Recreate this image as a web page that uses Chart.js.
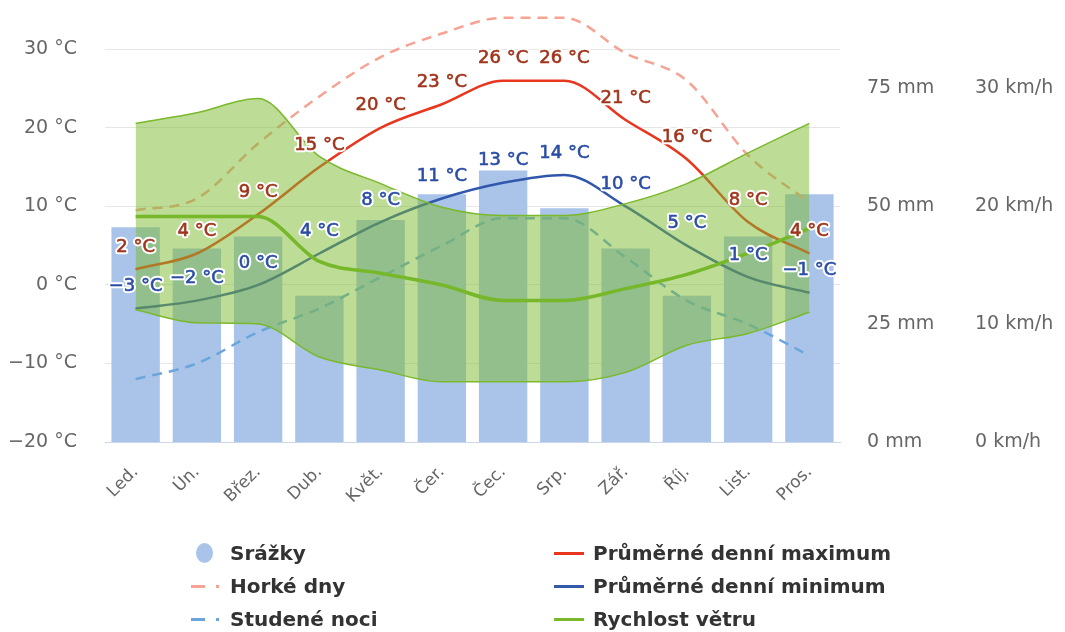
<!DOCTYPE html>
<html>
<head>
<meta charset="utf-8">
<script src="https://cdn.jsdelivr.net/npm/chart.js@4.4.1/dist/chart.umd.min.js"></script>
<style>
  html, body { margin: 0; padding: 0; background: #fff; }
  #wrap { position: relative; width: 1065px; height: 632px; overflow: hidden; font-family: "DejaVu Sans", sans-serif; }
  #chart { position: absolute; left: 0; top: 0; }
  .lg-text { position: absolute; font-weight: bold; font-size: 20px; line-height: 24px; color: #333; white-space: nowrap; }
  .mk { position: absolute; }
</style>
</head>
<body>
<div id="wrap">
  <canvas id="chart" width="1065" height="632"></canvas>

  <!-- legend, left column -->
  <div class="mk" style="left:196px;top:543px;width:17px;height:20px;border-radius:50%;background:#a9c4e8;"></div>
  <div class="lg-text" style="left:230px;top:541px;">Srážky</div>

  <div class="mk" style="left:191px;top:585px;width:14px;height:3px;background:#f6a394;"></div>
  <div class="mk" style="left:216px;top:585px;width:3px;height:3px;background:#f6a394;"></div>
  <div class="lg-text" style="left:230px;top:574px;">Horké dny</div>

  <div class="mk" style="left:191px;top:618px;width:14px;height:3px;background:#6aa6dc;"></div>
  <div class="mk" style="left:216px;top:618px;width:3px;height:3px;background:#6aa6dc;"></div>
  <div class="lg-text" style="left:230px;top:607px;">Studené noci</div>

  <!-- legend, right column -->
  <div class="mk" style="left:554px;top:552px;width:30px;height:3px;background:#e8361f;"></div>
  <div class="lg-text" style="left:593px;top:541px;">Průměrné denní maximum</div>

  <div class="mk" style="left:554px;top:585px;width:30px;height:3px;background:#3559aa;"></div>
  <div class="lg-text" style="left:593px;top:574px;">Průměrné denní minimum</div>

  <div class="mk" style="left:554px;top:618px;width:30px;height:3px;background:#7ab82c;"></div>
  <div class="lg-text" style="left:593px;top:607px;">Rychlost větru</div>
</div>

<script>
// Monthly climate normals
const months = ['Led.', 'Ún.', 'Břez.', 'Dub.', 'Květ.', 'Čer.', 'Čec.', 'Srp.', 'Zář.', 'Říj.', 'List.', 'Pros.'];
const precipitation = [45.5, 41, 43.5, 31, 47, 52.5, 57.5, 49.5, 41, 31, 43.5, 52.5];   // mm
const dailyMax = [2, 4, 9, 15, 20, 23, 26, 26, 21, 16, 8, 4];                             // °C
const dailyMin = [-3, -2, 0, 4, 8, 11, 13, 14, 10, 5, 1, -1];                             // °C
const hotDays = [9.5, 11, 18, 24, 29, 32, 34, 34, 29.5, 26, 16.5, 10.5];                  // °C
const coldNights = [-12, -10, -6, -3, 1, 5, 8.5, 8.5, 3.5, -2, -5, -9];                   // °C
const windMean = [19.1, 19.1, 19.1, 15.3, 14.3, 13.3, 12.0, 12.0, 13.0, 14.2, 16.0, 18.1]; // km/h
const windHigh = [27.0, 27.9, 29.1, 24.2, 21.9, 19.9, 19.2, 19.2, 20.2, 21.9, 24.5, 27.0]; // km/h
const windLow = [11.2, 10.1, 10.0, 7.2, 6.1, 5.1, 5.1, 5.1, 5.9, 8.2, 9.2, 11.0];          // km/h

// Axis ticks
const tempTicks = [-20, -10, 0, 10, 20, 30];
const precipTicks = [0, 25, 50, 75];
const windTicks = [0, 10, 20, 30];

const FONT = '"DejaVu Sans", sans-serif';
const fmtTemp = v => (v < 0 ? '\u2212' + Math.abs(v) : String(v)) + ' °C';

// Value labels with a white halo above each temperature point
const valueLabels = {
  id: 'valueLabels',
  afterDraw(chart) {
    const ctx = chart.ctx;
    ctx.save();
    ctx.font = '18px ' + FONT;
    ctx.textAlign = 'center';
    ctx.textBaseline = 'middle';
    ctx.lineJoin = 'round';
    chart.data.datasets.forEach((ds, di) => {
      if (!ds.labelColor) return;
      const meta = chart.getDatasetMeta(di);
      meta.data.forEach((pt, i) => {
        const txt = fmtTemp(ds.data[i]);
        const x = pt.x, y = pt.y - 22;
        ctx.strokeStyle = '#ffffff';
        ctx.lineWidth = 4.5;
        ctx.strokeText(txt, x, y);
        ctx.fillStyle = ds.labelColor;
        ctx.fillText(txt, x, y);
        ctx.strokeStyle = ds.labelColor;
        ctx.lineWidth = 0.6;
        ctx.strokeText(txt, x, y);
      });
    });
    ctx.restore();
  }
};

// Fixed axis sizes so the plot area spans 105..840 x 10..442
const fixY = width => s => { s.width = width; s.paddingTop = 0; s.paddingBottom = 0; };

const smooth = { cubicInterpolationMode: 'monotone', pointRadius: 0, pointHoverRadius: 0, fill: false };

new Chart(document.getElementById('chart'), {
  type: 'bar',
  data: {
    labels: months,
    datasets: [
      { type: 'bar', label: 'Srážky', data: precipitation, yAxisID: 'mm',
        backgroundColor: '#a9c4e8', barPercentage: 0.79, categoryPercentage: 1, order: 10 },
      { type: 'line', label: 'Horké dny', data: hotDays, yAxisID: 't', ...smooth,
        borderColor: '#f6a394', borderWidth: 2.5, borderDash: [10, 7], order: 6 },
      { type: 'line', label: 'Studené noci', data: coldNights, yAxisID: 't', ...smooth,
        borderColor: '#6aa6dc', borderWidth: 2.5, borderDash: [10, 7], order: 6 },
      { type: 'line', label: 'Průměrné denní maximum', data: dailyMax, yAxisID: 't', ...smooth,
        borderColor: '#e8361f', borderWidth: 2.5, order: 5, labelColor: '#a1341b' },
      { type: 'line', label: 'Průměrné denní minimum', data: dailyMin, yAxisID: 't', ...smooth,
        borderColor: '#3157ab', borderWidth: 2.5, order: 5, labelColor: '#2a4da5' },
      { type: 'line', label: 'Vítr max', data: windHigh, yAxisID: 'kmh', ...smooth,
        borderColor: '#7ab82c', borderWidth: 1.5, fill: '+1', backgroundColor: 'rgba(124,186,46,0.5)', order: 3 },
      { type: 'line', label: 'Vítr min', data: windLow, yAxisID: 'kmh', ...smooth,
        borderColor: '#7ab82c', borderWidth: 1.5, order: 2 },
      { type: 'line', label: 'Rychlost větru', data: windMean, yAxisID: 'kmh', ...smooth,
        borderColor: '#76b82a', borderWidth: 3.5, order: 1 }
    ]
  },
  options: {
    responsive: false,
    animation: false,
    devicePixelRatio: 1,
    layout: { padding: { top: 10, bottom: 0, left: 0, right: 0 } },
    plugins: { legend: { display: false }, tooltip: { enabled: false } },
    scales: {
      x: {
        offset: true,
        grid: { display: false },
        border: { display: true, color: '#ccd6eb', width: 1 },
        ticks: { color: '#666', font: { family: FONT, size: 17 }, minRotation: 45, maxRotation: 45, autoSkip: false, padding: 12 },
        afterFit: s => { s.height = 190; s.paddingLeft = 0; s.paddingRight = 0; }
      },
      t: {
        position: 'left',
        min: -20, max: 35,
        z: 1,
        grid: { color: '#e6e6e6', drawTicks: false },
        border: { display: false },
        ticks: { color: '#666', font: { family: FONT, size: 19 }, padding: 28, callback: v => fmtTemp(v) },
        afterBuildTicks: s => { s.ticks = tempTicks.map(v => ({ value: v })); },
        afterFit: fixY(105)
      },
      mm: {
        position: 'right', weight: 1,
        min: 0, max: 91.5,
        grid: { display: false, drawTicks: false },
        border: { display: false },
        ticks: { color: '#666', font: { family: FONT, size: 19 }, padding: 27, callback: v => v + ' mm' },
        afterBuildTicks: s => { s.ticks = precipTicks.map(v => ({ value: v })); },
        afterFit: fixY(120)
      },
      kmh: {
        position: 'right', weight: 2,
        min: 0, max: 36.61,
        grid: { display: false, drawTicks: false },
        border: { display: false },
        ticks: { color: '#666', font: { family: FONT, size: 19 }, padding: 15, callback: v => v + ' km/h' },
        afterBuildTicks: s => { s.ticks = windTicks.map(v => ({ value: v })); },
        afterFit: fixY(105)
      }
    }
  },
  plugins: [valueLabels]
});
</script>
</body>
</html>
